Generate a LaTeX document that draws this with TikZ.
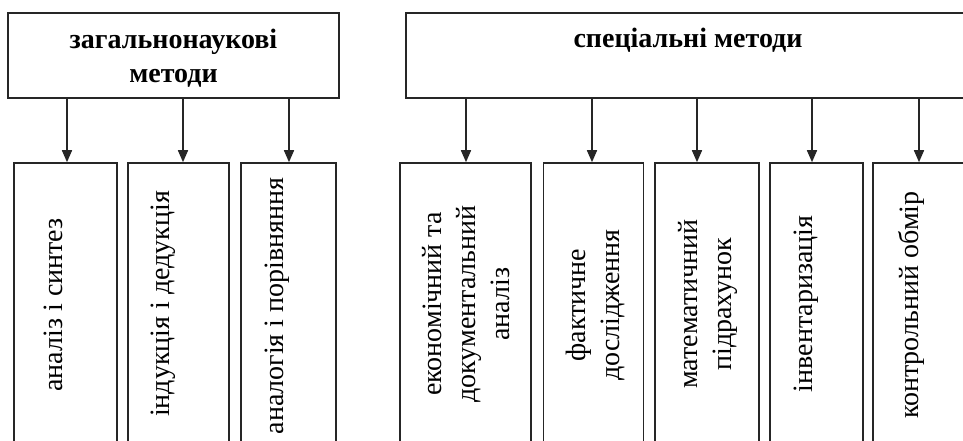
\documentclass[tikz,border=0pt]{standalone}
\usepackage{fontspec}
\setmainfont{Liberation Serif}
\usetikzlibrary{arrows.meta}
\begin{document}
\begin{tikzpicture}[x=1pt,y=-1pt,
  box/.style={draw=black!85,line width=1.6pt,rectangle,inner sep=0pt},
  lbl/.style={rotate=90,font=\fontsize{28}{34}\selectfont,align=center,inner sep=0pt},
  hdr/.style={font=\fontsize{28}{34}\selectfont\bfseries,align=center,inner sep=0pt},
  arr/.style={line width=1.6pt,draw=black!85,-{Triangle[length=12pt,width=10pt]}}]
\useasboundingbox (0,0) rectangle (963,441);
\clip (0,0) rectangle (963,441);
\fill[white] (0,0) rectangle (963,441);
% header boxes
\node[box,minimum width=331pt,minimum height=85pt] (L) at (173.5,55.5) {};
\node[box,minimum width=564pt,minimum height=85pt] (R) at (688,55.5) {};
\node[hdr] (Lt) at (173.5,58) {загальнонаукові\\методи};
\node[hdr,anchor=base] (Rt) at (688,48) {спеціальні методи};
% bottom boxes
\node[box,minimum width=103pt,minimum height=284pt] (b1) at (65.5,305) {};
\node[box,minimum width=101pt,minimum height=284pt] (b2) at (178.5,305) {};
\node[box,minimum width=95pt,minimum height=284pt] (b3) at (288.5,305) {};
\node[box,minimum width=131pt,minimum height=284pt] (b4) at (465.5,305) {};
\node[box,minimum width=100pt,minimum height=284pt] (b5) at (593.5,305) {};
\node[box,minimum width=104pt,minimum height=284pt] (b6) at (707,305) {};
\node[box,minimum width=93pt,minimum height=284pt] (b7) at (816.5,305) {};
\node[box,minimum width=96pt,minimum height=284pt] (b8) at (921,305) {};
% labels
\node[lbl] (t1) at (53,305) {аналіз і синтез};
\node[lbl] (t2) at (163,304) {індукція і дедукція};
\node[lbl] (t3) at (277,306) {аналогія і порівняння};
\node[lbl] (t4) at (466,304) {економічний та\\документальний\\аналіз};
\node[lbl] (t5) at (595,305) {фактичне\\дослідження};
\node[lbl] (t6) at (708,304) {математичний\\підрахунок};
\node[lbl] (t7) at (806,304) {інвентаризація};
\node[lbl] (t8) at (911,305) {контрольний обмір};
% arrows
\draw[arr] ([xshift=1.5pt]b1.north |- L.south) -- ([xshift=1.5pt]b1.north);
\draw[arr] ([xshift=4.5pt]b2.north |- L.south) -- ([xshift=4.5pt]b2.north);
\draw[arr] ([xshift=0.5pt]b3.north |- L.south) -- ([xshift=0.5pt]b3.north);
\draw[arr] ([xshift=0.5pt]b4.north |- R.south) -- ([xshift=0.5pt]b4.north);
\draw[arr] ([xshift=-1.5pt]b5.north |- R.south) -- ([xshift=-1.5pt]b5.north);
\draw[arr] ([xshift=-10pt]b6.north |- R.south) -- ([xshift=-10pt]b6.north);
\draw[arr] ([xshift=-4.5pt]b7.north |- R.south) -- ([xshift=-4.5pt]b7.north);
\draw[arr] ([xshift=-2pt]b8.north |- R.south) -- ([xshift=-2pt]b8.north);
\end{tikzpicture}
\end{document}
